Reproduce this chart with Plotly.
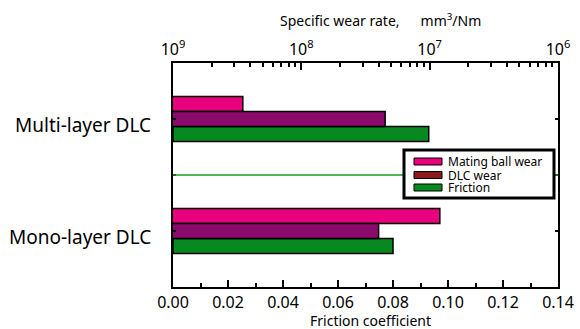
import plotly.graph_objects as go

# ---- data ----
categories = ["Multi-layer DLC", "Mono-layer DLC"]
ball_wear = [3.5e-9, 1.2e-7]      # mm3/Nm (top log axis)
dlc_wear = [4.5e-8, 4.0e-8]       # mm3/Nm (top log axis)
friction = [0.093, 0.080]         # friction coefficient (bottom axis)
legend_labels = ["Mating ball wear", "DLC wear", "Friction"]
top_tick_vals = [1e-9, 1e-8, 1e-7, 1e-6]
top_tick_text = ["10<sup>9</sup>", "10<sup>8</sup>", "10<sup>7</sup>", "10<sup>6</sup>"]
x_title = "Friction coefficient"
x2_title = "Specific wear rate,\u2003\u2002mm<sup>3</sup>/Nm"

PINK = "#E8007D"
PURPLE = "#8B0B6B"
GREEN = "#07891F"
DLC_LEG = "#8B1A1A"
FONT = "Noto Sans"

W, H = 580, 329
L, R, T, B = 173, 22, 63, 42
pw, ph = W - L - R, H - T - B

def px(x):
    return (x - L) / pw

def py(y):
    return (H - B - y) / ph

ypos = list(range(len(categories)))
bw = 0.134

fig = go.Figure()
fig.add_trace(go.Bar(y=ypos, x=ball_wear, orientation="h", xaxis="x2", yaxis="y",
                     width=bw, offset=-0.2, marker=dict(color=PINK, line=dict(color="black", width=1.5)),
                     name=legend_labels[0], showlegend=False))
fig.add_trace(go.Bar(y=ypos, x=dlc_wear, orientation="h", xaxis="x2", yaxis="y",
                     width=bw, offset=-0.067, marker=dict(color=PURPLE, line=dict(color="black", width=1.5)),
                     name=legend_labels[1], showlegend=False))
fig.add_trace(go.Bar(y=ypos, x=friction, orientation="h", xaxis="x", yaxis="y",
                     width=bw, offset=0.067, marker=dict(color=GREEN, line=dict(color="black", width=1.5)),
                     name=legend_labels[2], showlegend=False))

minor_log = [k * 10.0 ** e for e in range(-9, -6) for k in range(2, 10)]

fig.update_layout(
    width=W, height=H,
    margin=dict(l=L, r=R, t=T, b=B),
    paper_bgcolor="white", plot_bgcolor="white",
    barmode="overlay",
    showlegend=False,
    font=dict(family=FONT, color="black"),
    xaxis=dict(range=[0, 0.14], tickvals=[i * 0.02 for i in range(8)], ticktext=[f"{i*0.02:.2f}" for i in range(8)],
               ticks="inside", ticklen=7, tickwidth=1.5, tickcolor="black",
               minor=dict(ticks="inside", ticklen=4, tickwidth=1.5, tickcolor="black", dtick=0.01),
               showline=True, linecolor="black", linewidth=2, showgrid=False, zeroline=False,
               automargin=False, ticklabelstandoff=0,
               tickfont=dict(size=16, family=FONT)),
    xaxis2=dict(type="log", overlaying="x", side="top", range=[-9, -6],
                tickvals=top_tick_vals, ticktext=top_tick_text,
                ticks="inside", ticklen=7, tickwidth=1.5, tickcolor="black",
                minor=dict(ticks="inside", ticklen=4, tickwidth=1.5, tickcolor="black", tickvals=minor_log),
                showline=True, linecolor="black", linewidth=2, showgrid=False, zeroline=False,
                automargin=False, ticklabelstandoff=0,
                tickfont=dict(size=16, family=FONT)),
    yaxis=dict(range=[1.5, -0.5], tickvals=[0, 0.5, 1], showticklabels=False,
               ticks="inside", ticklen=3, tickwidth=2, tickcolor="black",
               showline=True, linecolor="black", linewidth=2, mirror="ticks",
               showgrid=False, zeroline=False, automargin=False),
)

# category labels
for i, cat in enumerate(categories):
    fig.add_annotation(xref="paper", yref="y", x=px(153), y=ypos[i] + 0.05, text=cat, showarrow=False,
                       xanchor="right", yanchor="middle", font=dict(size=19, family=FONT, color="black"))

# axis titles
fig.add_annotation(xref="paper", yref="paper", x=px(370), y=py(320), text=x_title, showarrow=False,
                   xanchor="center", yanchor="middle", font=dict(size=14, family=FONT, color="black"))
fig.add_annotation(xref="paper", yref="paper", x=px(380), y=py(20), text=x2_title, showarrow=False,
                   xanchor="center", yanchor="middle", font=dict(size=14, family=FONT, color="black"))

# separator line between the two groups
fig.add_shape(type="line", xref="paper", yref="y", x0=0, x1=1, y0=0.5, y1=0.5,
              line=dict(color="#1E9A1E", width=1.5), layer="above")

# legend box (drawn manually to match swatch shape)
fig.add_shape(type="rect", xref="paper", yref="paper", x0=px(404), x1=px(554), y0=py(198), y1=py(150),
              fillcolor="white", line=dict(color="black", width=3), layer="above")
sw_colors = [PINK, DLC_LEG, GREEN]
rows_y = [161.5, 175, 187.5]
for lab, c, yy in zip(legend_labels, sw_colors, rows_y):
    fig.add_shape(type="rect", xref="paper", yref="paper", x0=px(414), x1=px(442), y0=py(yy + 3.5), y1=py(yy - 3.5),
                  fillcolor=c, line=dict(color="black", width=1), layer="above")
    fig.add_annotation(xref="paper", yref="paper", x=px(446), y=py(yy), text=lab, showarrow=False,
                       xanchor="left", yanchor="middle", font=dict(size=12, family=FONT, color="black"))

fig.write_html("out.html", config={"displayModeBar": False},
               post_script="document.body.style.margin='0';")
